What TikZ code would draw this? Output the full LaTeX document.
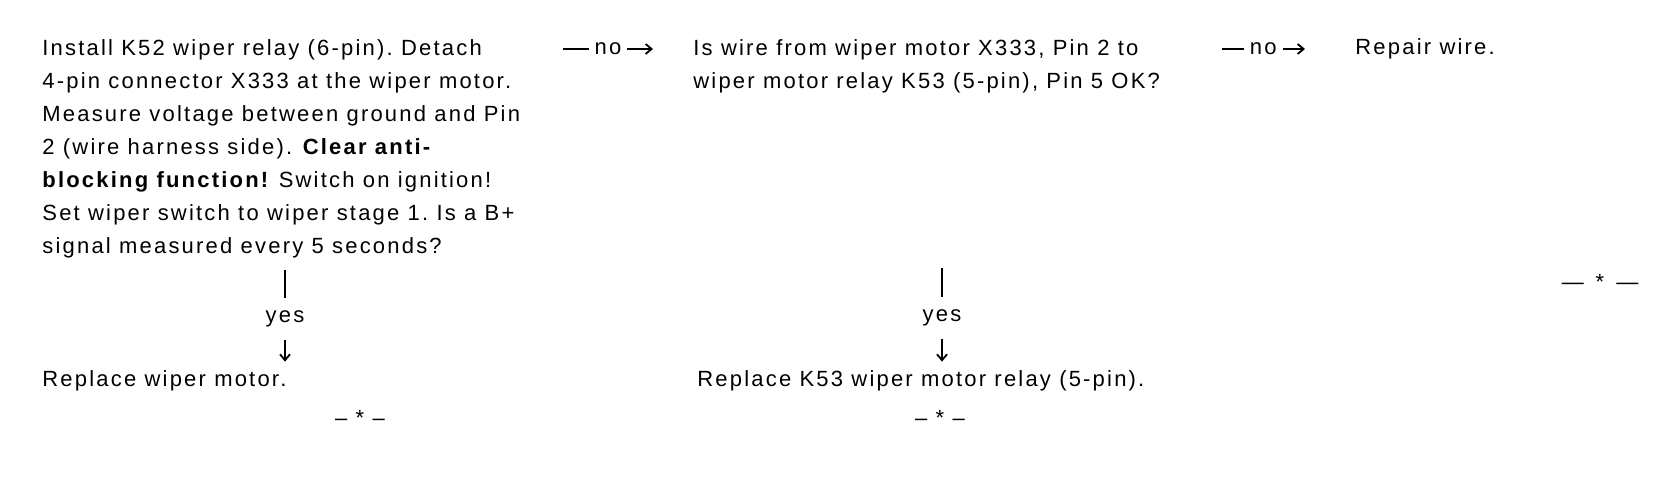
\documentclass[tikz,border=0pt]{standalone}
\usepackage{fontspec}
\setmainfont{Liberation Sans}[LetterSpace=10]
\usetikzlibrary{arrows.meta}
\begin{document}
\frenchspacing
\begin{tikzpicture}[x=0.5pt,y=-0.5pt,
  body/.style={font=\fontsize{11}{16.5}\selectfont\frenchspacing},
  txt/.style={body,inner sep=0pt,anchor=base west,align=left},
  blk/.style={body,inner sep=0pt,anchor=north west,align=left},
  endmark/.style={body,inner sep=0pt,anchor=base},
  conn/.style={line width=0.9pt,-{Straight Barb[length=3pt,width=5pt]}},
  hlab/.style={body,fill=white,inner xsep=3pt,inner ysep=1pt},
  vlab/.style={body,fill=white,inner xsep=2pt,inner ysep=6.4pt}]
\useasboundingbox (0,0) rectangle (1676,496);
\node[blk] (q1) at (42,39) {Install K52 wiper relay (6-pin). Detach\\ 4-pin connector X333 at the wiper motor.\\ Measure voltage between ground and Pin\\ 2 (wire harness side). \textbf{Clear anti-}\\ \textbf{blocking function!} Switch on ignition!\\ Set wiper switch to wiper stage 1. Is a B+\\ signal measured every 5 seconds?};
\node[blk] (q2) at (693,39) {Is wire from wiper motor X333, Pin 2 to\\ wiper motor relay K53 (5-pin), Pin 5 OK?};
\node[txt] (a3) at (1355,55) {Repair wire.};
\node[txt] (r1) at (42,387) {Replace wiper motor.};
\node[txt] (r2) at (697,387) {Replace K53 wiper motor relay (5-pin).};
\node[endmark] (e1) at (360,426) {– * –};
\node[endmark] (e2) at (940,426) {– * –};
\node[endmark] (e3) at (1600,290) {— \,*\, —};
\coordinate (n1) at (563,49);
\coordinate (n2) at (1222,49);
\coordinate (y1) at (285,0);
\coordinate (y2) at (942,0);
\draw[conn,shorten >=20pt] (n1) -- node[hlab,pos=0.346]{no} (n1 -| q2.west);
\draw[conn,shorten >=25pt] (n2) -- node[hlab,pos=0.31]{no} (n2 -| a3.west);
\draw[conn,shorten <=6pt,shorten >=4.5pt] (q1.south -| y1) -- node[vlab,pos=0.54]{yes} (r1.north -| y1);
\draw[conn,shorten <=87.5pt,shorten >=4.5pt] (q2.south -| y2) -- node[vlab,pos=0.81]{yes} (r2.north -| y2);
\end{tikzpicture}
\end{document}
